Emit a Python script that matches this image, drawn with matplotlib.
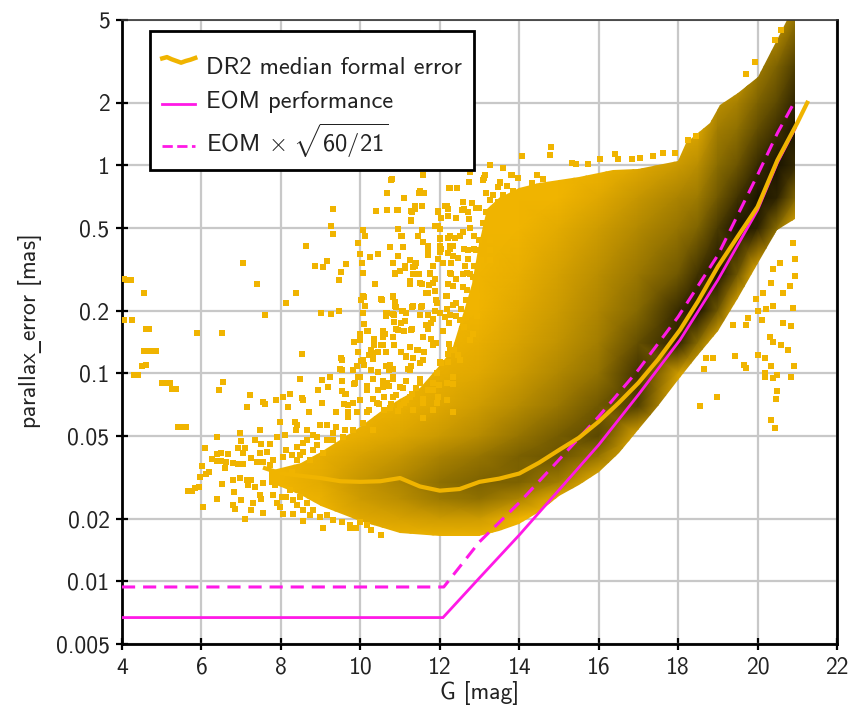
import numpy as np, matplotlib
matplotlib.use("Agg")
import matplotlib.pyplot as plt
from matplotlib.colors import LinearSegmentedColormap
from matplotlib.legend_handler import HandlerBase
from matplotlib.lines import Line2D
from matplotlib.patches import Polygon

plt.rcParams["font.family"] = ["cmss10", "DejaVu Sans"]
plt.rcParams["mathtext.fontset"] = "custom"
plt.rcParams["mathtext.rm"] = "cmss10"
plt.rcParams["mathtext.it"] = "cmss10"
plt.rcParams["mathtext.bf"] = "cmss10"
plt.rcParams["mathtext.tt"] = "DejaVu Sans"
plt.rcParams["axes.unicode_minus"] = False

GOLD = "#f0b400"
MAGENTA = "#ff19e6"

x_ticks = [4, 6, 8, 10, 12, 14, 16, 18, 20, 22]
y_ticks = [0.005, 0.01, 0.02, 0.05, 0.1, 0.2, 0.5, 1, 2, 5]
y_labels = ["0.005", "0.01", "0.02", "0.05", "0.1", "0.2", "0.5", "1", "2", "5"]

# EOM kurven
eom_g = [4, 12.08, 13, 14, 15, 16, 17, 18.05, 19, 20, 20.5, 20.95]
eom_e = [0.0067, 0.0067, 0.0104, 0.0167, 0.0275, 0.0453, 0.079, 0.145, 0.281, 0.61, 1.03, 1.51]
eom2_g = [4, 12.1, 13, 14, 15, 16, 17, 18, 19, 20, 20.5, 20.9]
eom2_e = [0.0094, 0.0094, 0.0155, 0.0239, 0.0384, 0.062, 0.104, 0.187, 0.37, 0.9, 1.43, 1.97]

# median
med_g = [7.6, 8, 8.5, 9, 9.5, 10, 10.5, 11, 11.5, 12, 12.5, 13, 13.5, 14, 14.5, 15, 15.5, 16, 16.5, 17, 17.5, 18.05, 18.5, 19, 19.5, 20, 20.5, 21, 21.25]
med_e = [0.035, 0.033, 0.0322, 0.0314, 0.0303, 0.0301, 0.0303, 0.0314, 0.0286, 0.0273, 0.0278, 0.0301, 0.0312, 0.033, 0.0372, 0.0428, 0.049, 0.0586, 0.072, 0.09, 0.117, 0.162, 0.222, 0.326, 0.455, 0.632, 1.06, 1.6, 2.0]

# huelle der wolke
env_up_g = [7.7, 8.5, 9, 9.5, 10, 10.5, 11, 11.5, 12, 12.3, 12.6, 12.8, 13, 13.2, 13.5, 14, 14.5, 15, 15.5, 16.35, 17, 18, 18.2, 18.8, 19.05, 19.5, 20, 20.5, 20.75, 20.95]
env_up_e = [0.034, 0.037, 0.042, 0.048, 0.055, 0.065, 0.075, 0.085, 0.11, 0.13, 0.2, 0.27, 0.42, 0.62, 0.7, 0.78, 0.82, 0.85, 0.88, 0.95, 0.96, 1.05, 1.28, 1.6, 1.95, 2.22, 2.66, 4.0, 5.0, 5.0]
env_lo_g = [20.95, 20.5, 20, 19.5, 19, 18.5, 18, 17.5, 17, 16.5, 16, 15.5, 15, 14.5, 14, 13.5, 13, 12, 11, 10, 9, 8.5, 7.7]
env_lo_e = [0.55, 0.49, 0.34, 0.23, 0.16, 0.122, 0.093, 0.07, 0.0535, 0.0415, 0.0336, 0.029, 0.0256, 0.0215, 0.0188, 0.0175, 0.0165, 0.0165, 0.017, 0.0195, 0.023, 0.026, 0.03]

# dichte (0 gold, 1 schwarz), eine zeile je G-spalte
dichte_g = [7, 8, 9, 10, 11, 12, 13, 14, 15, 16, 17, 18, 18.5, 19, 19.5, 20, 20.5, 21]
dichte_e = [0.016, 0.02, 0.025, 0.03, 0.04, 0.05, 0.07, 0.1, 0.14, 0.2, 0.3, 0.5, 0.7, 1, 1.5, 2, 3, 5]
dichte = [
    [0, 0, 0, 0, 0, 0, 0, 0, 0, 0, 0, 0, 0, 0, 0, 0, 0, 0],
    [0, 0, 0, 0, 0, 0, 0, 0, 0, 0, 0, 0, 0, 0, 0, 0, 0, 0],
    [0, 0, 0.03, 0.08, 0.05, 0, 0, 0, 0, 0, 0, 0, 0, 0, 0, 0, 0, 0],
    [0, 0.1, 0.2, 0.25, 0.15, 0.05, 0, 0, 0, 0, 0, 0, 0, 0, 0, 0, 0, 0],
    [0, 0.15, 0.3, 0.35, 0.25, 0.12, 0.03, 0, 0, 0, 0, 0, 0, 0, 0, 0, 0, 0],
    [0, 0.2, 0.42, 0.48, 0.36, 0.22, 0.1, 0.05, 0, 0, 0, 0, 0, 0, 0, 0, 0, 0],
    [0, 0.2, 0.48, 0.55, 0.45, 0.32, 0.2, 0.1, 0.05, 0, 0, 0, 0, 0, 0, 0, 0, 0],
    [0, 0, 0.35, 0.55, 0.56, 0.45, 0.32, 0.22, 0.15, 0.1, 0.05, 0, 0, 0, 0, 0, 0, 0],
    [0, 0, 0.05, 0.4, 0.62, 0.58, 0.44, 0.34, 0.27, 0.22, 0.17, 0.08, 0, 0, 0, 0, 0, 0],
    [0, 0, 0, 0, 0.45, 0.68, 0.6, 0.47, 0.4, 0.35, 0.3, 0.2, 0.1, 0, 0, 0, 0, 0],
    [0, 0, 0, 0, 0, 0.1, 0.72, 0.8, 0.65, 0.52, 0.44, 0.33, 0.25, 0.1, 0, 0, 0, 0],
    [0, 0, 0, 0, 0, 0, 0, 0.2, 0.9, 0.85, 0.6, 0.45, 0.36, 0.22, 0.05, 0, 0, 0],
    [0, 0, 0, 0, 0, 0, 0, 0, 0.5, 1, 0.8, 0.54, 0.42, 0.3, 0.12, 0, 0, 0],
    [0, 0, 0, 0, 0, 0, 0, 0, 0, 0.6, 1, 0.75, 0.6, 0.5, 0.4, 0.3, 0, 0],
    [0, 0, 0, 0, 0, 0, 0, 0, 0, 0, 0.6, 1, 0.8, 0.62, 0.48, 0.38, 0.1, 0],
    [0, 0, 0, 0, 0, 0, 0, 0, 0, 0, 0, 0.9, 1, 0.85, 0.65, 0.55, 0.4, 0.2],
    [0, 0, 0, 0, 0, 0, 0, 0, 0, 0, 0, 0.5, 0.9, 1, 0.82, 0.68, 0.55, 0.25],
    [0, 0, 0, 0, 0, 0, 0, 0, 0, 0, 0, 0, 0.5, 0.85, 1, 0.92, 0.75, 0.5],
]

# einzelne punkte ausserhalb der wolke
punkte_g = [4.05, 4.12, 4.22, 4.55, 4.05, 4.25, 4.6, 4.68, 5.9, 6.52, 7.05, 7.4, 7.6, 8.13, 8.38, 8.63, 9.31, 9.26, 9.3, 8.86, 9.06, 9.16, 9.64, 9.51, 9.46, 9.01, 9.26, 9.46,
    4.55, 4.65, 4.75, 4.85, 4.5, 4.6, 4.3, 4.4, 5.0, 5.1, 5.2, 5.25, 5.35, 5.4, 5.5, 5.6, 5.65, 5.75, 5.85, 5.95,
    6.05, 5.96, 6.11, 6.2, 6.01, 6.1, 6.4, 6.38, 6.48, 6.26, 6.38, 6.5, 6.62, 6.6, 6.68, 6.4, 6.52, 6.8, 6.93, 7.05, 6.8, 6.83, 6.8, 6.84, 7.0, 6.97, 6.97, 7, 6.93, 7.1, 7.05, 7.26, 7.39, 7.14, 7.22, 6.55, 6.43, 7.35, 7.47,
    7.14, 7.26, 7.18, 7.35, 7.55, 7.47, 7.51, 7.3, 7.26, 7.55, 7.1, 7.55, 7.6, 7.87, 8.06, 8.24, 8.56, 8.52, 8.17, 7.98, 8.35, 8.4, 8.37, 8.72, 8.48, 8.52,
    7.72, 7.51, 7.89, 8.1, 7.64, 7.81, 7.47, 7.55, 7.72, 7.77, 7.85, 7.81, 7.89, 7.98, 8.06, 8.31, 8.56, 9.07, 9.74, 9.9, 10.28, 10.53,
    11.58, 10.79, 10.66, 11.5, 11.6, 11.1, 12.26, 12.43, 12.76, 12.74, 10.39, 10.66, 10.94, 11.27, 11.37, 11.56, 11.27, 11.96, 12.17, 12.6, 12.8, 10.07, 10.12, 9.95, 10, 10.96, 11.04, 10.75, 11.08, 11.46, 11.54, 11.71, 10.24, 10.45, 10.96, 10.03, 10.07, 10.83, 11.12, 11.37, 10.37, 10.87, 11.25, 11.5, 11.75, 11.83, 11.71,
    10.07, 10.12, 10.53, 10.83, 10.87, 11.32, 11.54, 10.66, 10.83, 11.04, 11.12, 12, 12.25, 12.5, 11.83, 11.71, 10.07, 10.2, 10.58, 10.91, 11.29,
    12, 12, 12.04, 12.25, 12.25, 12.34, 12.5, 12.6, 12.72, 12.85, 12.85, 12.85, 12.68, 12.93, 12.25, 12.34, 12.17, 12.68, 12.93, 12.76, 12.93, 11.92, 12.17, 12.42,
    13.26, 13.58, 14.06, 14.79, 14.77, 13.81, 13.97, 13.11, 13.51, 14.31, 14.44, 14.6, 15.32, 15.44, 15.74, 16.03, 16.41, 16.49, 16.83, 17.04, 17.37, 17.61, 17.92, 18.46, 18.25, 19.93, 20.6, 20.44, 19.72,
    18.55, 18.98, 19.44, 19.65, 19.7, 20.02, 20.2, 20.2, 20.2, 20.35, 20.39, 20.5, 20.5, 20.46, 20.35, 20.43, 20.85, 20.93, 20.77, 20.6, 20.39, 18.88, 18.7, 18.65,
    19.76, 19.72, 19.39, 20.0, 20.22, 20.39, 20.64, 20.85, 20.9, 20.81, 20.94, 20.94, 20.9, 20.64, 20.56, 20.35, 20.39, 20.14, 19.97, 20.1, 20.31,
    9.91, 9.99, 10.07, 10.33, 10.58, 10.75, 10.66, 10.58, 10.83, 11.16, 11.25, 11.42, 11.58, 11.83, 12, 11.92, 11, 11.29, 11.5, 11.83, 12.25, 12.51, 12.34, 12.17, 11.58, 11.83, 11.16, 10.83, 10.16, 9.99, 9.86, 9.53, 9.53, 9.23, 9.03, 8.94, 9.19, 9.03, 9.61, 9.7, 9.4, 9.15, 9.4, 8.98, 8.65, 8.82, 9.32, 8.9, 9.61, 8.56, 8.4, 8.73, 8.27]
punkte_e = [0.285, 0.28, 0.28, 0.244, 0.18, 0.18, 0.164, 0.164, 0.157, 0.157, 0.34, 0.27, 0.19, 0.218, 0.244, 0.41, 0.617, 0.51, 0.47, 0.33, 0.325, 0.347, 0.335, 0.307, 0.281, 0.195, 0.193, 0.2,
    0.128, 0.128, 0.128, 0.128, 0.109, 0.11, 0.098, 0.098, 0.09, 0.09, 0.09, 0.084, 0.084, 0.0555, 0.0555, 0.0555, 0.0273, 0.0273, 0.028, 0.0285,
    0.0228, 0.0318, 0.033, 0.0336, 0.0358, 0.0436, 0.0496, 0.041, 0.0415, 0.0386, 0.038, 0.038, 0.0375, 0.0349, 0.041, 0.0248, 0.0294, 0.0372, 0.0366, 0.0366, 0.0307, 0.027, 0.0232, 0.0224, 0.0247, 0.0315, 0.0515, 0.0473, 0.044, 0.044, 0.0415, 0.0393, 0.0376, 0.069, 0.0787, 0.091, 0.083, 0.0478, 0.0534,
    0.0307, 0.0307, 0.0291, 0.0285, 0.0296, 0.026, 0.025, 0.0237, 0.022, 0.0213, 0.0199, 0.073, 0.071, 0.0744, 0.0766, 0.0795, 0.0744, 0.0758, 0.069, 0.0585, 0.0585, 0.0564, 0.0534, 0.0654, 0.094, 0.1234,
    0.046, 0.0457, 0.0496, 0.0505, 0.042, 0.0383, 0.0413, 0.0376, 0.0362, 0.03, 0.029, 0.026, 0.0237, 0.0228, 0.0212, 0.0212, 0.0196, 0.018, 0.018, 0.018, 0.0177, 0.0167,
    0.9, 0.857, 0.739, 0.753, 0.739, 0.699, 0.78, 0.78, 0.932, 0.835, 0.603, 0.61, 0.61, 0.603, 0.637, 0.637, 0.544, 0.603, 0.637, 0.614, 0.66, 0.49, 0.457, 0.425, 0.373, 0.497, 0.457, 0.407, 0.407, 0.457, 0.49, 0.395, 0.364, 0.373, 0.366, 0.338, 0.305, 0.34, 0.328, 0.33, 0.268, 0.305, 0.278, 0.272, 0.305, 0.272, 0.244,
    0.235, 0.21, 0.228, 0.235, 0.212, 0.21, 0.21, 0.196, 0.192, 0.2, 0.178, 0.196, 0.19, 0.18, 0.182, 0.163, 0.196, 0.16, 0.16, 0.163, 0.163,
    0.493, 0.441, 0.395, 0.457, 0.395, 0.367, 0.457, 0.395, 0.353, 0.457, 0.395, 0.328, 0.305, 0.283, 0.305, 0.263, 0.235, 0.253, 0.235, 0.218, 0.188, 0.218, 0.203, 0.218,
    1.0, 0.97, 1.11, 1.22, 1.12, 0.9, 0.87, 0.87, 0.825, 0.825, 0.9, 0.857, 1.03, 1.01, 1.01, 1.07, 1.14, 1.07, 1.07, 1.08, 1.11, 1.15, 1.15, 1.38, 1.33, 3.15, 4.5, 4.0, 2.74,
    0.0699, 0.0766, 0.1216, 0.11, 0.106, 0.123, 0.118, 0.1, 0.0957, 0.108, 0.0946, 0.098, 0.0825, 0.0752, 0.0597, 0.0544, 0.0957, 0.108, 0.13, 0.137, 0.142, 0.118, 0.118, 0.105,
    0.184, 0.171, 0.171, 0.2, 0.203, 0.21, 0.175, 0.169, 0.206, 0.263, 0.294, 0.353, 0.425, 0.244, 0.34, 0.272, 0.316, 0.244, 0.227, 0.18, 0.15,
    0.108, 0.096, 0.116, 0.125, 0.137, 0.11, 0.0895, 0.0863, 0.096, 0.12, 0.104, 0.129, 0.116, 0.137, 0.112, 0.1, 0.0863, 0.08, 0.0895, 0.083, 0.129, 0.116, 0.096, 0.0895, 0.0717, 0.0666, 0.0744, 0.0772, 0.083, 0.0744, 0.0895, 0.116, 0.104, 0.096, 0.093, 0.083, 0.0863, 0.0717, 0.08, 0.0704, 0.0654, 0.0565, 0.0554, 0.0565, 0.0534, 0.0505, 0.0478, 0.0452, 0.0534, 0.042, 0.0383, 0.0383, 0.0337]

# dazu: punkte aus dem duennen bereich G 10-14
punkte2 = [(10.78, .853), (10.66, .737), (11.09, .7), (11.48, .74), (11.58, .737), (11.56, .636), (10.66, .61), (10.93, .61), (11.29, .6), (11.37, .62), (11.28, .54),
    (12.23, .78), (12.44, .78), (12.74, .835), (13.09, .85), (13.13, .9), (13.51, .83), (13.47, .79), (13.68, .8), (13.8, .9), (13.97, .87),
    (12.59, .67), (12.13, .635), (12.2, .62), (12.55, .61), (11.96, .6), (12.71, .6), (12.92, .625), (13.0, .625),
    (12.04, .56), (12.2, .57), (12.42, .56), (12.74, .55), (11.87, .51), (11.96, .51), (12.76, .5), (12.59, .48), (12.38, .45), (12.2, .45),
    (10.95, .495), (11.03, .456), (11.55, .49), (11.45, .456), (11.58, .43), (10.74, .405), (11.07, .405),
    (12, .45), (12, .408), (12, .385), (11.7, .41), (11.7, .37), (11.96, .355), (12.25, .408), (12.34, .408), (12.2, .378), (12.46, .358), (12.71, .39), (12.92, .39),
    (10.95, .365), (10.82, .34), (11.24, .35), (11.12, .32), (11, .31), (10.87, .3), (11.4, .34), (11.33, .325), (11.82, .33),
    (12.08, .34), (12.29, .34), (12.63, .33), (12.76, .3), (12.96, .33), (12.59, .3), (12.84, .29), (11.48, .3), (11.33, .3), (11.75, .3), (11.87, .285), (11.24, .27), (11.54, .27), (11.73, .265), (12.29, .3), (12.42, .285), (12.2, .27), (12.59, .26),
    (13.17, .737), (13.34, .72), (13.59, .72), (13.85, .75), (13.26, .68), (13.47, .67), (13.85, .67), (13.17, .6), (13.42, .61), (13.63, .6), (13.93, .62),
    (13.09, .53), (13.17, .49), (13, .44), (13.26, .44), (13.26, .39), (13.05, .35), (13.26, .35),
    (10.08, .233), (10.12, .21), (10.02, .226), (10.54, .226), (10.82, .233), (10.88, .22), (10.9, .208), (11.3, .208), (11.53, .208), (11.66, .243), (11.9, .226), (11.87, .25),
    (10.65, .195), (10.65, .188), (11.07, .2), (11.15, .195), (10.86, .19), (10.86, .177), (11.02, .174), (11.51, .19), (11.7, .19), (11.78, .174), (11.66, .17), (11.87, .2),
    (10.06, .195), (10.1, .172), (10.18, .16), (9.47, .2), (10, .155), (10, .145), (9.85, .142), (10.63, .155), (10.56, .15), (10.82, .15), (10.94, .162), (11.1, .16), (11.28, .162),
    (10.35, .147), (10.35, .137), (10.27, .13), (10.21, .123), (10.31, .117), (10.52, .137), (9.93, .127), (10.02, .115), (10.08, .11), (10.44, .127), (10.65, .127),
    (10.86, .137), (11.03, .127), (11.24, .134), (11.45, .13), (11.61, .127), (11.57, .15), (11.78, .146), (11.91, .14), (11.15, .121), (11.32, .118), (11.28, .109), (11.49, .112), (11.19, .105),
    (12, .114), (12.2, .114), (12.03, .112), (10.65, .108), (10.82, .105), (10.73, .104), (10.27, .104), (10.44, .101), (9.82, .104), (9.51, .118), (9.5, .105),
    (9.55, .092), (9.85, .089), (9.93, .096), (9.55, .082), (9.63, .08), (9.6, .071), (9.81, .072),
    (12.24, .138), (12.37, .13), (12.2, .124), (12.45, .122), (12.08, .16), (12.24, .174), (12.12, .186), (12.41, .188), (12.66, .186), (12.62, .168), (12.83, .155), (12.75, .145),
    (12.33, .213), (12.54, .205), (12.83, .235), (12.66, .226), (12.16, .235),
    (8.65, .0478), (8.9, .0496), (9.15, .0478), (9.32, .0515), (9.57, .0496), (9.82, .0534), (10.07, .0575), (10.33, .0534), (9.7, .062), (9.91, .0654), (9.7, .0654), (10.16, .0654), (10.41, .0717), (10.75, .0678), (11, .0704), (11.33, .0666), (11.58, .0608), (11.92, .0717), (12.17, .0744), (12.34, .0654),
    (8.4, .0444), (8.14, .0428), (8.56, .0461), (8.27, .0405), (8.06, .0397), (8.48, .0405), (8.82, .0428), (9.07, .0413),
    (8.14, .0255), (8.31, .0246), (8.48, .0255), (8.65, .0239), (8.56, .0221), (8.82, .0221), (8.98, .0204), (9.15, .0208), (9.32, .0198), (9.53, .0193), (9.74, .0187), (9.99, .0193), (10.16, .0187), (8.23, .0275), (8.02, .0255), (8.4, .0232), (8.73, .0208),
    (10.31, .094), (10.56, .092), (10.82, .094), (11.15, .092), (11.49, .094), (11.82, .09), (10.18, .087), (10.44, .083), (10.73, .087), (11.07, .085), (11.4, .085), (11.7, .083), (11.99, .088), (12.33, .089),
    (10.31, .075), (10.6, .077), (10.9, .079), (11.24, .077), (11.57, .075), (11.95, .077), (10.48, .071), (10.77, .071), (11.11, .072), (10.23, .067), (10.6, .067), (10.94, .066)]

# welle im legendensymbol
welle = [0.2, 0.35, 0.1, -0.1, -0.3, -0.1, 0.05, 0.25]
gerade = [0, 0]


class LinieHandler(HandlerBase):
    def __init__(self, form, dy):
        super().__init__()
        self.form = form
        self.dy = dy

    def create_artists(self, legend, orig, xd, yd, w, h, fontsize, trans):
        xs = np.linspace(0, w, len(self.form))
        ys = h / 2 + self.dy + np.array(self.form) * h * 0.5
        return [Line2D(xs, ys, color=orig.get_color(), lw=orig.get_linewidth(), ls=orig.get_linestyle(), transform=trans)]


fig = plt.figure(figsize=(8.52, 7.09), dpi=100)
ax = fig.add_axes([122 / 852, 1 - 644 / 709, 715 / 852, 624 / 709])
ax.set_yscale("log")
ax.set_xlim(4, 22)
ax.set_ylim(0.005, 5)

ax.grid(True, color="#c8c8c8", lw=1.6)
ax.set_axisbelow(True)

cmap = LinearSegmentedColormap.from_list("wolke", [GOLD, "#c69600", "#8a6c00", "#4a3a00", "#1a1400"])
G, E = np.meshgrid(dichte_g, dichte_e, indexing="ij")
mesh = ax.pcolormesh(G, E, np.array(dichte), shading="gouraud", cmap=cmap, vmin=0, vmax=1, zorder=2)
huelle = Polygon(list(zip(env_up_g + env_lo_g, env_up_e + env_lo_e)), transform=ax.transData)
mesh.set_clip_path(huelle)

ax.scatter(punkte_g, punkte_e, s=16, marker="s", color=GOLD, linewidths=0, zorder=3)
ax.scatter(*zip(*punkte2), s=16, marker="s", color=GOLD, linewidths=0, zorder=3)

ax.plot(eom_g, eom_e, color=MAGENTA, lw=2, zorder=4, solid_joinstyle="miter")
ax.plot(eom2_g, eom2_e, color=MAGENTA, lw=2.2, ls=(0, (4.3, 2.6)), zorder=4)
ax.plot(med_g, med_e, color=GOLD, lw=3, zorder=5)

ax.set_xticks(x_ticks)
ax.set_yticks(y_ticks)
ax.set_yticklabels(y_labels)
ax.minorticks_off()
ax.tick_params(axis="both", direction="inout", length=8, width=1.6, labelsize=17, color="black", labelcolor="#222222", pad=5)
for s in ["left", "bottom", "right"]:
    ax.spines[s].set_linewidth(2)
    ax.spines[s].set_color("black")
ax.spines["top"].set_linewidth(1.2)
ax.spines["top"].set_color("#333333")

ax.set_xlabel("G [mag]", fontsize=17, color="#222222", labelpad=2)
ax.set_ylabel(r"parallax$\mathtt{\_}$error [mas]", fontsize=17, color="#222222", labelpad=8)

handles = [Line2D([], [], color=GOLD, lw=3.2),
           Line2D([], [], color=MAGENTA, lw=2),
           Line2D([], [], color=MAGENTA, lw=2, ls=(0, (4, 2.5)))]
labels = ["DR2 median formal error", "EOM performance", r"EOM $\times\ \sqrt{60/21}$"]
hm = {handles[0]: LinieHandler(welle, -6), handles[1]: LinieHandler(gerade, -10), handles[2]: LinieHandler(gerade, -3)}
leg = ax.legend(handles, labels, handler_map=hm, loc="upper left",
                bbox_to_anchor=(28 / 715, 1 - 11 / 624), borderaxespad=0, fontsize=17.6,
                fancybox=False, framealpha=1, edgecolor="black", labelspacing=0.65,
                handlelength=1.35, handletextpad=0.45, borderpad=0.5)
leg.get_frame().set_linewidth(2)
leg.set_zorder(10)
# zeilen etwas nach unten wie im original
for t, dy in zip(leg.get_texts(), [-14, -9, -2]):
    t.set_color("#222222")
    t.set_y(dy)

fig.savefig("out.png", dpi=100)
